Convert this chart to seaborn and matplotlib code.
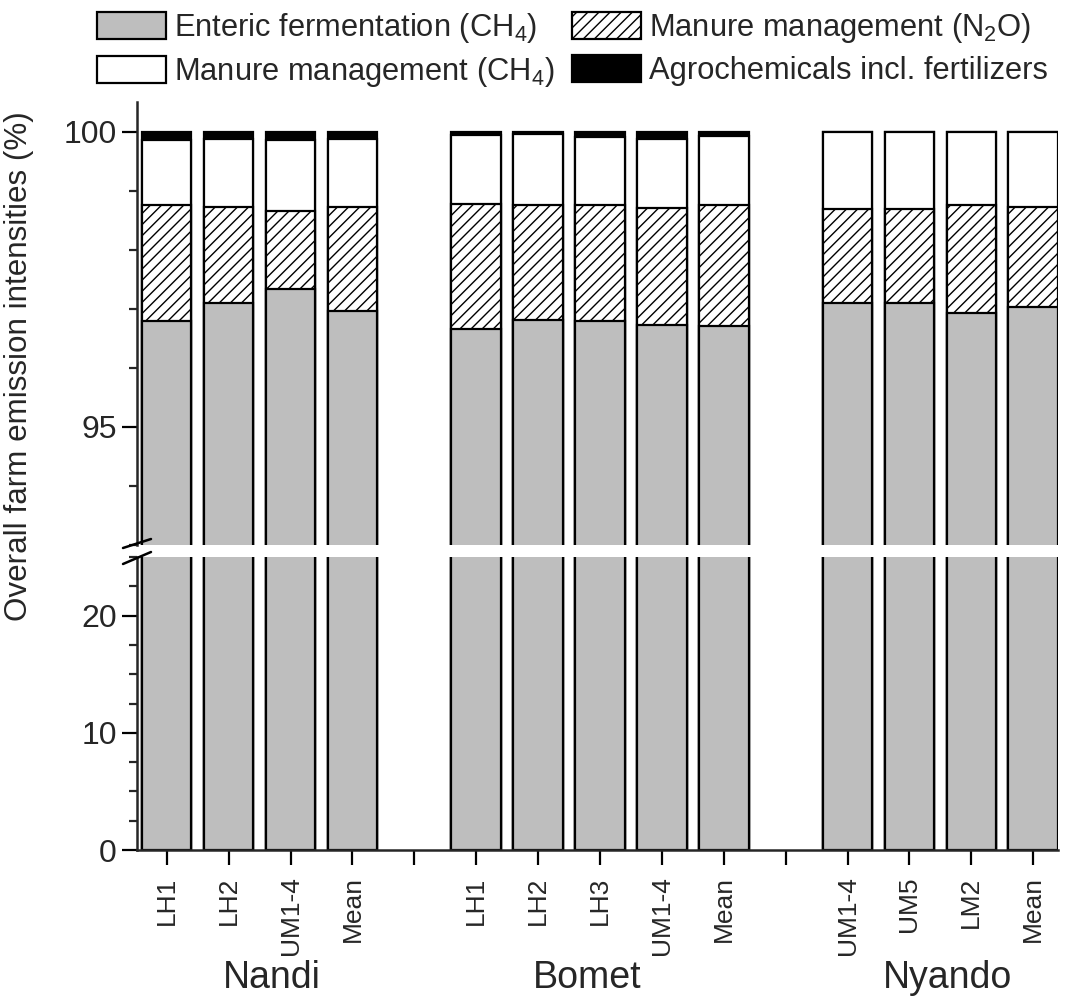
import numpy as np
import pandas as pd
import matplotlib
matplotlib.use('Agg')
import matplotlib.pyplot as plt
import matplotlib.patches as mpatches
from matplotlib.lines import Line2D
from matplotlib.ticker import MultipleLocator
import matplotlib.transforms as mtransforms
import seaborn as sns

# data (%)
regions = ['Nandi', 'Bomet', 'Nyando']
sites = ['Nandi LH1', 'Nandi LH2', 'Nandi UM1-4', 'Nandi Mean',
         'Bomet LH1', 'Bomet LH2', 'Bomet LH3', 'Bomet UM1-4', 'Bomet Mean',
         'Nyando UM1-4', 'Nyando UM5', 'Nyando LM2', 'Nyando Mean']
site_labels = ['LH1', 'LH2', 'UM1-4', 'Mean',
               'LH1', 'LH2', 'LH3', 'UM1-4', 'Mean',
               'UM1-4', 'UM5', 'LM2', 'Mean']
enteric_ch4 = [96.79, 97.09, 97.34, 96.96,
               96.65, 96.81, 96.80, 96.72, 96.70,
               97.09, 97.10, 96.93, 97.03]
manure_n2o = [1.96, 1.63, 1.32, 1.77,
              2.12, 1.94, 1.96, 1.99, 2.05,
              1.60, 1.59, 1.82, 1.70]
manure_ch4 = [1.10, 1.16, 1.19, 1.15,
              1.17, 1.21, 1.14, 1.17, 1.17,
              1.31, 1.31, 1.25, 1.27]
agrochem = [0.15, 0.12, 0.15, 0.12,
            0.06, 0.04, 0.10, 0.12, 0.08,
            0.0, 0.0, 0.0, 0.0]

lab_enteric = 'Enteric fermentation (CH$_4$)'
lab_n2o = 'Manure management (N$_2$O)'
lab_ch4 = 'Manure management (CH$_4$)'
lab_agro = 'Agrochemicals incl. fertilizers'

# slot order with empty gaps between regions
order = sites[:4] + ['gap1'] + sites[4:9] + ['gap2'] + sites[9:]
tick_text = site_labels[:4] + [''] + site_labels[4:9] + [''] + site_labels[9:]

df = pd.DataFrame({'site': sites,
                   'enteric': enteric_ch4,
                   'n2o': manure_n2o,
                   'ch4': manure_ch4,
                   'agro': agrochem})
df['c1'] = df['enteric']
df['c2'] = df['c1'] + df['n2o']
df['c3'] = df['c2'] + df['ch4']
df['c4'] = df['c3'] + df['agro']

sns.set_style('ticks')
plt.rcParams['font.family'] = ['Liberation Sans', 'DejaVu Sans']
plt.rcParams['mathtext.fontset'] = 'custom'
plt.rcParams['mathtext.rm'] = 'Liberation Sans'
plt.rcParams['mathtext.it'] = 'Liberation Sans:italic'
plt.rcParams['hatch.linewidth'] = 1.0

W, H = 1066, 997
fig = plt.figure(figsize=(W / 100, H / 100), dpi=100)
ax_top = fig.add_axes([137 / W, 1 - 545 / H, (1058 - 137) / W, (545 - 102) / H])
ax_low = fig.add_axes([137 / W, 1 - 850 / H, (1058 - 137) / W, (850 - 557) / H])

gray = '#bebebe'
layers = [('c4', 'black', None), ('c3', 'white', None),
          ('c2', 'white', '///'), ('c1', gray, None)]

for ax in (ax_top, ax_low):
    for col, colr, hatch in layers:
        sns.barplot(data=df, x='site', y=col, order=order, color=colr,
                    saturation=1, width=0.8, edgecolor='black', linewidth=1.6,
                    hatch=hatch, errorbar=None, ax=ax)
    ax.set_xlim(-0.48, 14.4)
    ax.set_xlabel('')
    ax.set_ylabel('')
    for s in ax.spines.values():
        s.set_linewidth(1.8)
    ax.tick_params(axis='both', which='major', length=11, width=1.6,
                   labelsize=23, color='black')
    ax.tick_params(axis='y', which='minor', length=6, width=1.6)

ax_top.set_ylim(93, 100.5)
ax_top.set_yticks([95, 100])
ax_top.yaxis.set_minor_locator(MultipleLocator(1))
ax_top.spines['top'].set_visible(False)
ax_top.spines['right'].set_visible(False)
ax_top.spines['bottom'].set_visible(False)
ax_top.tick_params(axis='x', which='both', bottom=False, labelbottom=False)

ax_low.set_ylim(0, 25)
ax_low.set_yticks([0, 10, 20])
ax_low.yaxis.set_minor_locator(MultipleLocator(2.5))
ax_low.spines['top'].set_visible(False)
ax_low.spines['right'].set_visible(False)
ax_low.set_xticks(range(len(order)))
ax_low.set_xticklabels(tick_text, rotation=90, fontsize=19)
ax_low.tick_params(axis='x', pad=8)

# region names under the tick labels
trans = mtransforms.blended_transform_factory(ax_low.transData, fig.transFigure)
region_x = [1.69, 6.79, 12.62]
for name, xpos in zip(regions, region_x):
    fig.text(xpos, 1 - 988 / H, name, transform=trans, ha='center',
             va='baseline', fontsize=27)

# y label across both panels
fig.text(19 / W, 1 - 366 / H, 'Overall farm emission intensities (%)',
         rotation=90, ha='center', va='center', fontsize=22.6)

# axis break marks
for y0, y1 in [(548, 539), (564, 552)]:
    fig.add_artist(Line2D([123 / W, 151 / W], [1 - y0 / H, 1 - y1 / H],
                          color='black', lw=1.8))

# legend (filled column-wise: col 1 = enteric, manure CH4; col 2 = N2O, agro)
handles = [mpatches.Patch(facecolor=gray, edgecolor='black', lw=1.6),
           mpatches.Patch(facecolor='white', edgecolor='black', lw=1.6),
           mpatches.Patch(facecolor='white', edgecolor='black', lw=1.6, hatch='///'),
           mpatches.Patch(facecolor='black', edgecolor='black', lw=1.6)]
labels = [lab_enteric, lab_ch4, lab_n2o, lab_agro]
fig.legend(handles, labels, loc='upper left',
           bbox_to_anchor=(97 / W, 1 - 11 / H), ncol=2, frameon=False,
           fontsize=22.2, handlelength=2.25, handleheight=1.0,
           handletextpad=0.25, columnspacing=0.55, labelspacing=0.32,
           borderpad=0, borderaxespad=0)

fig.savefig('out.png', dpi=100)
